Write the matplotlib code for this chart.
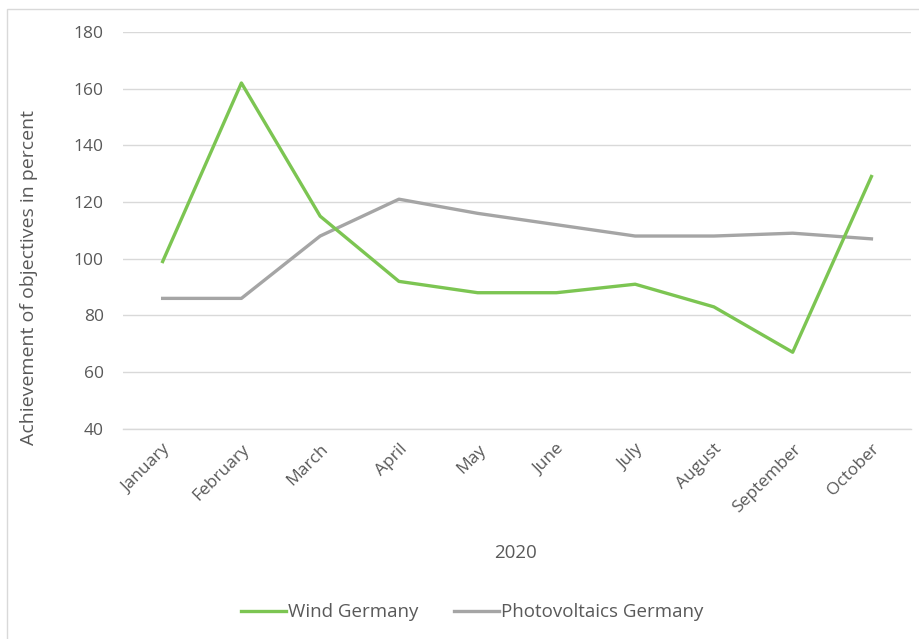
import matplotlib
matplotlib.use("Agg")
import matplotlib.pyplot as plt
from matplotlib.patches import Rectangle

months = ["January", "February", "March", "April", "May", "June",
          "July", "August", "September", "October"]
wind_germany = [99, 162, 115, 92, 88, 88, 91, 83, 67, 129]
pv_germany = [86, 86, 108, 121, 116, 112, 108, 108, 109, 107]
y_ticks = [40, 60, 80, 100, 120, 140, 160, 180]

plt.rcParams["font.family"] = ["Open Sans", "DejaVu Sans"]
text_color = "#595959"

fig = plt.figure(figsize=(9.2, 6.39), dpi=100, facecolor="white")
ax = fig.add_axes([0.134, 0.329, 0.856, 0.621])

x = range(len(months))
ax.plot(x, wind_germany, color="#7cc552", linewidth=2.4,
        solid_joinstyle="round", label="Wind Germany", zorder=3)
ax.plot(x, pv_germany, color="#a5a5a5", linewidth=2.4,
        solid_joinstyle="round", label="Photovoltaics Germany", zorder=2)

ax.set_xlim(-0.5, len(months) - 0.5)
ax.set_ylim(40, 180)
ax.set_yticks(y_ticks)
ax.set_xticks(list(x))
ax.set_xticklabels(months, rotation=45, ha="right", rotation_mode="anchor")
ax.tick_params(axis="both", length=0, colors=text_color, labelsize=12.5)
ax.tick_params(axis="y", pad=14)
ax.tick_params(axis="x", pad=9)
ax.grid(axis="y", color="#d9d9d9", linewidth=1.0)
ax.axhline(40, color="#d9d9d9", linewidth=1.0, clip_on=False, zorder=1)
ax.set_axisbelow(True)
for spine in ax.spines.values():
    spine.set_visible(False)

ax.set_ylabel("Achievement of objectives in percent", color=text_color,
              fontsize=14)
ax.yaxis.set_label_coords(-0.108, 0.38)
fig.text(0.56, 0.135, "2020", color=text_color, fontsize=13.5,
         ha="center", va="center")

handles, labels = ax.get_legend_handles_labels()
fig.legend(handles, labels, loc="center", bbox_to_anchor=(0.513, 0.042),
           ncol=2, frameon=False, fontsize=13.5, labelcolor=text_color,
           handlelength=2.4, handletextpad=0.1, columnspacing=1.9)

# light outer frame of the chart area
fig.patches.append(Rectangle((7 / 920, -0.05), 1.2, 1 - 9 / 639 + 0.05,
                             transform=fig.transFigure, fill=False,
                             edgecolor="#d9d9d9", linewidth=1.0))

fig.savefig("out.png", dpi=100, facecolor="white")
